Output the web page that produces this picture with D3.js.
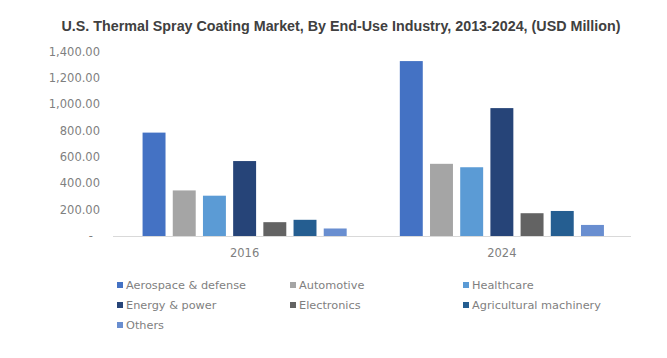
<!DOCTYPE html>
<html>
<head>
<meta charset="utf-8">
<script src="https://cdn.jsdelivr.net/npm/d3@7"></script>
<style>
  body { margin: 0; background: #fff; }
  text { font-family: "DejaVu Sans", Verdana, sans-serif; }
</style>
</head>
<body>
<div id="chart"></div>
<script>
// Chart data
const years = ['2016', '2024'];
const industries = ['Aerospace & defense', 'Automotive', 'Healthcare', 'Energy & power',
                    'Electronics', 'Agricultural machinery', 'Others'];
const values2016 = [785, 346, 306, 569, 105, 123, 57];
const values2024 = [1328, 548, 522, 971, 173, 190, 84];
const yTicks = [0, 200, 400, 600, 800, 1000, 1200, 1400];
const colors = ['#4472C4', '#A5A5A5', '#5B9BD5', '#264478', '#636363', '#255E91', '#698ED0'];

const width = 667;
const height = 358;

const svg = d3.select('#chart').append('svg')
    .attr('width', width)
    .attr('height', height);

// Title
svg.append('text')
    .attr('x', 341)
    .attr('y', 31)
    .attr('text-anchor', 'middle')
    .style('font-family', '"Liberation Sans", Arial, sans-serif')
    .style('font-weight', 'bold')
    .style('font-size', '14.3px')
    .attr('fill', '#404040')
    .text('U.S. Thermal Spray Coating Market, By End-Use Industry, 2013-2024, (USD Million)');

const y = d3.scaleLinear().domain([0, 1400]).range([236, 51.6]);

const x0 = d3.scaleBand().domain(years).range([116, 630.5]);
const x1 = d3.scaleBand().domain(industries).range([0, x0.bandwidth()]).paddingInner(0.24).paddingOuter(0.88);

const rows = years.map((yr, i) => ({ year: yr, vals: i === 0 ? values2016 : values2024 }));

// Y axis labels
const fmt = d3.format(',.2f');
svg.append('g').selectAll('text')
    .data(yTicks)
    .enter().append('text')
    .attr('x', d => d === 0 ? 93 : 100)
    .attr('y', d => y(d))
    .attr('dy', '0.35em')
    .attr('text-anchor', 'end')
    .style('font-size', '11.5px')
    .attr('fill', '#7f7f7f')
    .text(d => d === 0 ? '-' : fmt(d));

// Bars
const groups = svg.append('g').selectAll('g')
    .data(rows)
    .enter().append('g')
    .attr('transform', d => `translate(${x0(d.year)},0)`);

groups.selectAll('rect')
    .data(d => d.vals.map((v, i) => ({ key: industries[i], value: v, color: colors[i] })))
    .enter().append('rect')
    .attr('x', d => x1(d.key))
    .attr('width', x1.bandwidth())
    .attr('y', d => y(d.value))
    .attr('height', d => y(0) - y(d.value))
    .attr('fill', d => d.color);

// X axis line
svg.append('line')
    .attr('x1', 113)
    .attr('x2', 631)
    .attr('y1', y(0) + 0.5)
    .attr('y2', y(0) + 0.5)
    .attr('stroke', '#d9d9d9')
    .attr('stroke-width', 1);

// X labels
svg.append('g').selectAll('text')
    .data(years)
    .enter().append('text')
    .attr('x', d => x0(d) + x0.bandwidth() / 2)
    .attr('y', 256.5)
    .attr('text-anchor', 'middle')
    .style('font-size', '11.5px')
    .attr('fill', '#7f7f7f')
    .text(d => d);

// Legend
const legendCols = [117, 290, 463];
const legendRows = [285, 305, 325];
const legend = svg.append('g').selectAll('g')
    .data(industries)
    .enter().append('g')
    .attr('transform', (d, i) => `translate(${legendCols[i % 3]},${legendRows[Math.floor(i / 3)]})`);

legend.append('rect')
    .attr('x', 0)
    .attr('y', -3)
    .attr('width', 6)
    .attr('height', 6)
    .attr('fill', (d, i) => colors[i]);

legend.append('text')
    .attr('x', 9)
    .attr('y', 0)
    .attr('dy', '0.35em')
    .style('font-size', '11.3px')
    .attr('fill', '#7f7f7f')
    .text(d => d);
</script>
</body>
</html>
